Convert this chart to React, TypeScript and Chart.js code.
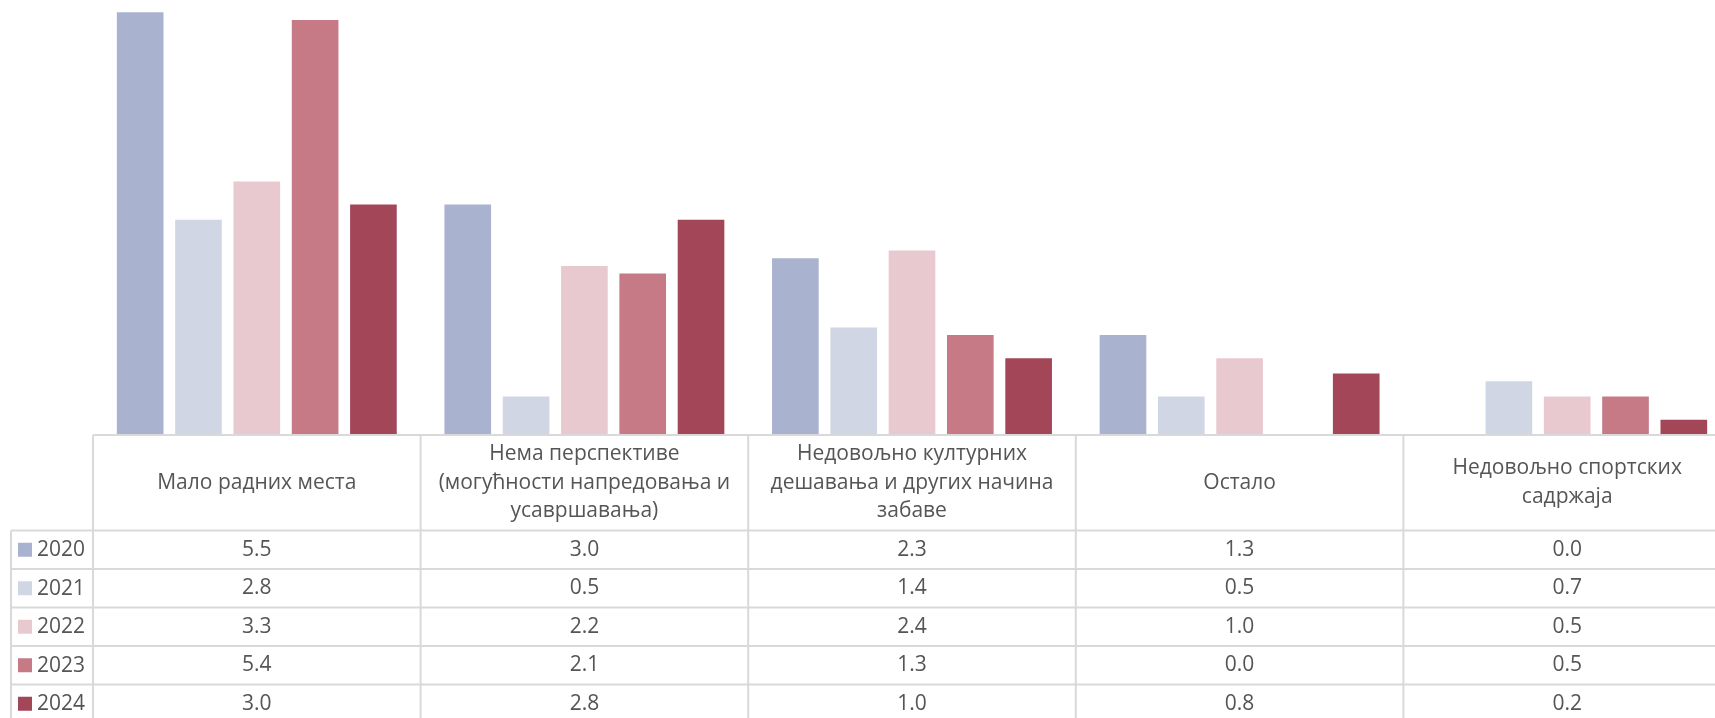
import React, { useEffect, useRef } from "react";
import { Chart, registerables } from "chart.js";

Chart.register(...registerables);

const categories: string[][] = [
  ["Мало радних места"],
  ["Нема перспективе", "(могућности напредовања и", "усавршавања)"],
  ["Недовољно културних", "дешавања и других начина", "забаве"],
  ["Остало"],
  ["Недовољно спортских", "садржаја"],
];

const years = ["2020", "2021", "2022", "2023", "2024"];

const values2020 = [5.5, 3.0, 2.3, 1.3, 0.0];
const values2021 = [2.8, 0.5, 1.4, 0.5, 0.7];
const values2022 = [3.3, 2.2, 2.4, 1.0, 0.5];
const values2023 = [5.4, 2.1, 1.3, 0.0, 0.5];
const values2024 = [3.0, 2.8, 1.0, 0.8, 0.2];

const seriesValues = [values2020, values2021, values2022, values2023, values2024];
const colors = ["#a9b3cf", "#d1d6e4", "#e9c9d0", "#c67a86", "#a34657"];

const FONT = '"Open Sans", sans-serif';
const TEXT_COLOR = "#555555";
const LINE_COLOR = "#d9d9d9";

const tablePlugin = {
  id: "dataTable",
  afterDraw(chart: any) {
    const ctx = chart.ctx as CanvasRenderingContext2D;
    const xs = chart.scales.x;
    const area = chart.chartArea;
    const n = categories.length;
    const catW = (xs.right - xs.left) / n;
    const W = chart.width;
    const H = chart.height;
    const top = area.bottom;
    const headerBottom = top + 95.5;
    const rowH = 38.5;
    const legendLeft = 11;

    ctx.save();
    ctx.strokeStyle = LINE_COLOR;
    ctx.lineWidth = 2;
    ctx.beginPath();
    ctx.moveTo(xs.left, top);
    ctx.lineTo(W, top);
    for (let r = 0; r <= years.length; r++) {
      const y = headerBottom + r * rowH;
      ctx.moveTo(legendLeft, y);
      ctx.lineTo(W, y);
    }
    for (let i = 0; i <= n; i++) {
      const x = xs.getPixelForTick(Math.min(i, n - 1)) + (i === n ? catW / 2 : -catW / 2);
      ctx.moveTo(x, top);
      ctx.lineTo(x, H);
    }
    ctx.moveTo(legendLeft, headerBottom);
    ctx.lineTo(legendLeft, H);
    ctx.stroke();

    ctx.fillStyle = TEXT_COLOR;
    ctx.font = `21px ${FONT}`;
    ctx.textAlign = "center";
    ctx.textBaseline = "middle";
    const headerMid = (top + headerBottom) / 2;
    const lineH = 28.5;
    for (let i = 0; i < n; i++) {
      const cx = xs.getPixelForTick(i);
      const lines = categories[i];
      lines.forEach((ln, k) => {
        const y = headerMid + (k - (lines.length - 1) / 2) * lineH;
        ctx.fillText(ln, cx, y);
      });
      seriesValues.forEach((vals, r) => {
        const y = headerBottom + r * rowH + rowH / 2;
        ctx.fillText(vals[i].toFixed(1), cx, y);
      });
    }
    ctx.textAlign = "left";
    years.forEach((yr, r) => {
      const cy = headerBottom + r * rowH + rowH / 2;
      ctx.fillStyle = colors[r];
      ctx.fillRect(18, cy - 7, 14, 14);
      ctx.fillStyle = TEXT_COLOR;
      ctx.fillText(yr, 37, cy + 0.5);
    });
    ctx.restore();
  },
};

export default function App() {
  const ref = useRef<HTMLCanvasElement | null>(null);
  useEffect(() => {
    if (!ref.current) return;
    const chart = new Chart(ref.current, {
      type: "bar",
      data: {
        labels: categories,
        datasets: years.map((y, i) => ({
          label: y,
          data: seriesValues[i],
          backgroundColor: colors[i],
          borderWidth: 0,
          barPercentage: 0.8,
          categoryPercentage: 0.89,
        })),
      },
      options: {
        responsive: false,
        animation: false,
        devicePixelRatio: 1,
        layout: { padding: { left: 93, right: 9, top: 0, bottom: 283 } },
        plugins: { legend: { display: false }, tooltip: { enabled: false } },
        scales: {
          x: { display: false, grid: { display: false } },
          y: { display: false, min: 0, max: 5.66 },
        },
      },
      plugins: [tablePlugin],
    });
    return () => chart.destroy();
  }, []);
  return (
    <div style={{ position: "fixed", left: 0, top: 0, width: 1715, height: 718, overflow: "hidden", background: "#fff" }}>
      <canvas ref={ref} width={1740} height={718} style={{ width: 1740, height: 718, display: "block" }} />
    </div>
  );
}
